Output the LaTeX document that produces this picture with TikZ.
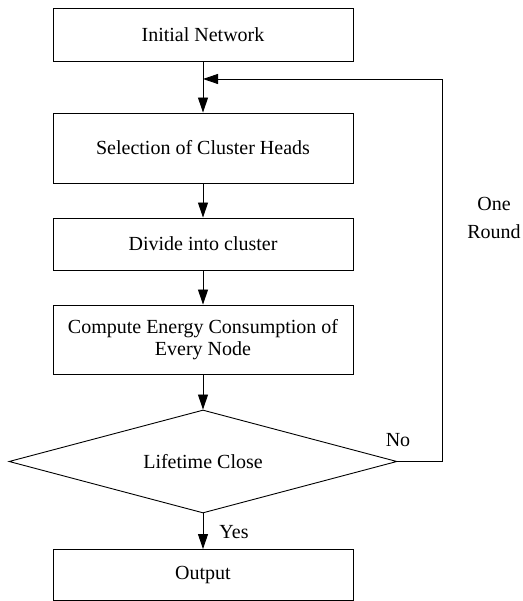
\documentclass[tikz,border=0pt]{standalone}
\usepackage{fontspec}
\setmainfont{Liberation Serif}
\usetikzlibrary{arrows.meta, shapes.geometric}
\tikzset{stage/.style={draw, line width=0.9pt, minimum width=300pt, inner sep=0pt, align=center, font=\fontsize{20}{22}\selectfont}}
\tikzset{decision/.style={draw, diamond, shape aspect=3.77, line width=0.9pt, minimum width=388pt, minimum height=103pt, inner sep=0pt, font=\fontsize{20}{22}\selectfont}}
\tikzset{flow/.style={line width=0.9pt, -{Triangle[length=15pt, width=10pt]}}}
\tikzset{note/.style={align=center, font=\fontsize{20}{28}\selectfont}}

\begin{document}
\begin{tikzpicture}[x=1pt, y=1pt]
            \useasboundingbox (0,0) rectangle (522,601);
            \node[stage, minimum height=53pt] (init) at (203,566.5) {Initial Network};
            \node[stage, minimum height=70pt] (heads) at (203,453) {Selection of Cluster Heads};
            \node[stage, minimum height=52pt] (divide) at (203,357) {Divide into cluster};
            \node[stage, minimum height=69pt] (energy) at (203,261.5) {Compute Energy Consumption of\\Every Node};
            \node[decision] (close) at (203,139.5) {Lifetime Close};
            \node[stage, minimum height=51pt] (out) at (203,26) {Output};
            \coordinate (merge) at (203,522);
            \coordinate (corner) at (442,522);
            \draw[flow] (init) -- (heads);
            \draw[flow] (heads) -- (divide);
            \draw[flow] (divide) -- (energy);
            \draw[flow] (energy) -- (close);
            \draw[flow] (close) -- (out);
            \draw[flow] (close.east) -- (close.east -| corner) -- (corner) -- (merge);
            \node[note] (yes) at (234,69) {Yes};
            \node[note] (no) at (398,161) {No};
            \node[note] (round) at (494,383) {One\\Round};
        \end{tikzpicture}
\end{document}
